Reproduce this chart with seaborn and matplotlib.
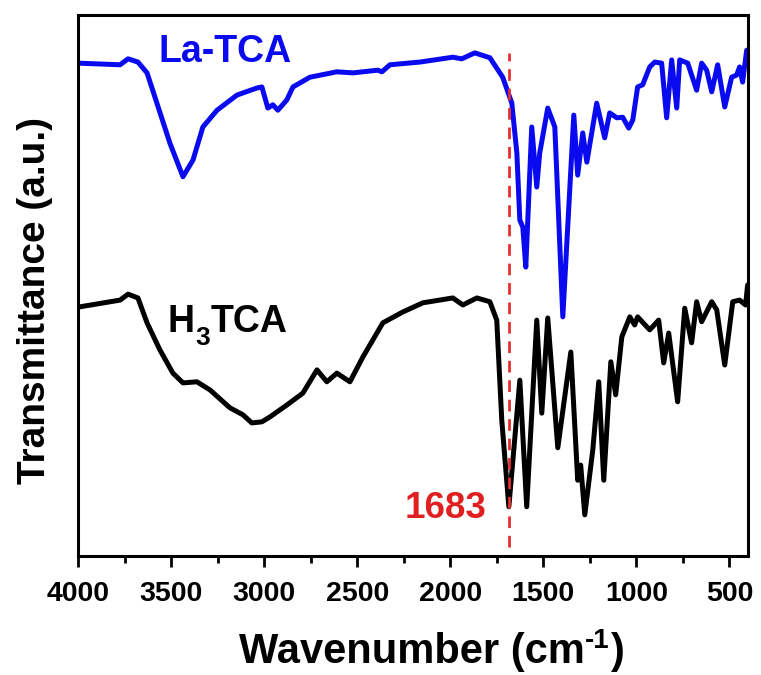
import numpy as np
import pandas as pd
import matplotlib
matplotlib.use("Agg")
import matplotlib.pyplot as plt
from matplotlib.ticker import MultipleLocator
from matplotlib.transforms import IdentityTransform
import seaborn as sns

# ---- data (wavenumber cm-1, transmittance a.u.) ----
la_wn = [4000, 3774, 3731, 3678, 3629, 3576, 3506, 3436, 3382, 3329, 3253, 3146,
         3039, 3012, 2980, 2953, 2926, 2878, 2845, 2754, 2609, 2523, 2389, 2367,
         2324, 2163, 1986, 1938, 1868, 1787, 1718, 1669, 1642, 1626, 1610, 1594,
         1562, 1535, 1519, 1476, 1438, 1395, 1336, 1315, 1288, 1266, 1213, 1170,
         1143, 1105, 1073, 1041, 1019, 993, 966, 928, 901, 864, 837, 810, 783,
         767, 724, 676, 649, 622, 595, 563, 525, 488, 461, 445, 429, 407]
la_t = [91.1, 90.8, 91.9, 91.3, 89.3, 83.7, 76.3, 70.1, 73.2, 79.3, 82.4, 85.2,
        86.5, 86.7, 82.8, 83.4, 82.4, 84.3, 86.7, 88.5, 89.5, 89.3, 89.8, 89.5,
        90.8, 91.3, 92.2, 91.9, 93.0, 92.1, 88.5, 83.7, 74.5, 62.1, 60.8, 53.4,
        79.3, 68.2, 74.5, 82.8, 79.3, 44.2, 81.5, 70.4, 78.2, 72.8, 83.7, 77.3,
        81.9, 81.0, 81.1, 79.1, 80.6, 86.7, 87.1, 90.4, 91.3, 91.1, 81.0, 91.7,
        82.8, 91.7, 91.1, 86.1, 91.1, 89.8, 85.8, 90.8, 83.0, 88.5, 88.9, 90.4,
        87.6, 93.5]

h3_wn = [4000, 3774, 3731, 3678, 3629, 3560, 3490, 3436, 3361, 3291, 3184, 3114,
         3066, 3012, 2969, 2878, 2792, 2716, 2663, 2609, 2539, 2469, 2362, 2255,
         2147, 1986, 1932, 1857, 1787, 1750, 1723, 1685, 1626, 1589, 1535, 1508,
         1476, 1422, 1352, 1315, 1299, 1277, 1234, 1202, 1175, 1137, 1111, 1078,
         1035, 1009, 993, 928, 880, 853, 826, 778, 740, 703, 676, 649, 595, 568,
         525, 482, 445, 413, 402]
h3_t = [46.0, 47.3, 48.4, 47.7, 43.1, 38.1, 33.8, 32.0, 32.2, 30.7, 27.4, 26.1,
        24.6, 24.8, 25.7, 27.9, 30.1, 34.4, 32.2, 33.8, 32.2, 36.8, 43.1, 45.1,
        46.8, 47.7, 46.4, 47.7, 47.0, 43.6, 25.1, 9.1, 32.5, 9.1, 43.6, 26.4,
        44.0, 20.0, 37.7, 14.0, 16.8, 7.6, 19.6, 32.2, 14.0, 35.9, 29.8, 40.5,
        44.2, 42.7, 44.2, 41.8, 43.6, 35.7, 41.2, 28.5, 45.8, 39.4, 47.0, 43.3,
        47.0, 45.5, 35.3, 47.0, 47.3, 46.4, 50.1]

marker_wn = 1683
x_ticks = [4000, 3500, 3000, 2500, 2000, 1500, 1000, 500]

la_df = pd.DataFrame({"wn": la_wn, "t": la_t})
h3_df = pd.DataFrame({"wn": h3_wn, "t": h3_t})

sns.set_style("ticks")
plt.rcParams["font.family"] = ["Liberation Sans", "DejaVu Sans"]
plt.rcParams["font.weight"] = "bold"
plt.rcParams["text.color"] = "black"
plt.rcParams["axes.labelcolor"] = "black"
plt.rcParams["xtick.color"] = "black"

W, H = 761, 675
fig = plt.figure(figsize=(W / 100, H / 100), dpi=100)
ax = fig.add_axes([78 / W, 1 - 556 / H, 670 / W, 541 / H])

sns.lineplot(data=la_df, x="wn", y="t", ax=ax, color="#0a0af0",
             linewidth=3.6, sort=False, estimator=None)
sns.lineplot(data=h3_df, x="wn", y="t", ax=ax, color="black",
             linewidth=3.6, sort=False, estimator=None)
for ln in ax.lines:
    ln.set_linewidth(3.6)
    ln.set_solid_joinstyle("round")
    ln.set_solid_capstyle("round")

ax.plot([marker_wn, marker_wn], [1.7, 93.0], color="#e23030", lw=2.0,
        dashes=(4.2, 2.8))

ax.set_xlim(4000, 400)
ax.set_ylim(0, 100)
ax.set_xticks(x_ticks)
ax.set_xticklabels([str(v) for v in x_ticks])
ax.xaxis.set_minor_locator(MultipleLocator(250))
ax.set_yticks([])
ax.tick_params(axis="x", which="major", direction="out", length=8, width=2,
               labelsize=20.5, pad=10, colors="black")
ax.tick_params(axis="x", which="minor", direction="out", length=5, width=2,
               colors="black")
for lab in ax.get_xticklabels():
    lab.set_fontweight("bold")
for sp in ax.spines.values():
    sp.set_visible(True)
    sp.set_linewidth(2.2)
    sp.set_color("black")

ax.set_xlabel("")
ax.set_ylabel("Transmittance (a.u.)", fontsize=28, fontweight="bold")
ax.yaxis.set_label_coords(-0.064, (556 - 300) / 541)
ax.yaxis.label.set_va("center")

ax.text(3570, 91.3, "La-TCA", color="#0a0af0", fontsize=27,
        fontweight="bold", ha="left", va="baseline")
ax.text(1804, 7.0, str(marker_wn), color="#e02020", fontsize=26.5,
        fontweight="bold", ha="right", va="baseline")

fig.canvas.draw()
renderer = fig.canvas.get_renderer()


def text_run(parts, x0, y0):
    """Draw consecutive text pieces in display pixels starting at (x0, y0).
    parts: (string, fontsize, baseline shift in px (up positive), colour)."""
    x = x0
    for s, size, dy, color in parts:
        t = fig.text(x, y0 + dy, s, fontsize=size, fontweight="bold",
                     color=color, ha="left", va="baseline",
                     transform=IdentityTransform())
        x = t.get_window_extent(renderer).x1 + 0.5


# H3TCA label with subscript, anchored at a data position
hx, hy = ax.transData.transform((3517, 41.4))
text_run([("H", 27, 0, "black"), ("3", 19, -13, "black"),
          ("TCA", 27, 0, "black")], hx, hy)

# x-axis label with superscript
text_run([("Wavenumber (cm", 30, 0, "black"), ("-1", 20, 15, "black"),
          (")", 30, 0, "black")], 239, H - 663)

fig.savefig("out.png", dpi=100)
